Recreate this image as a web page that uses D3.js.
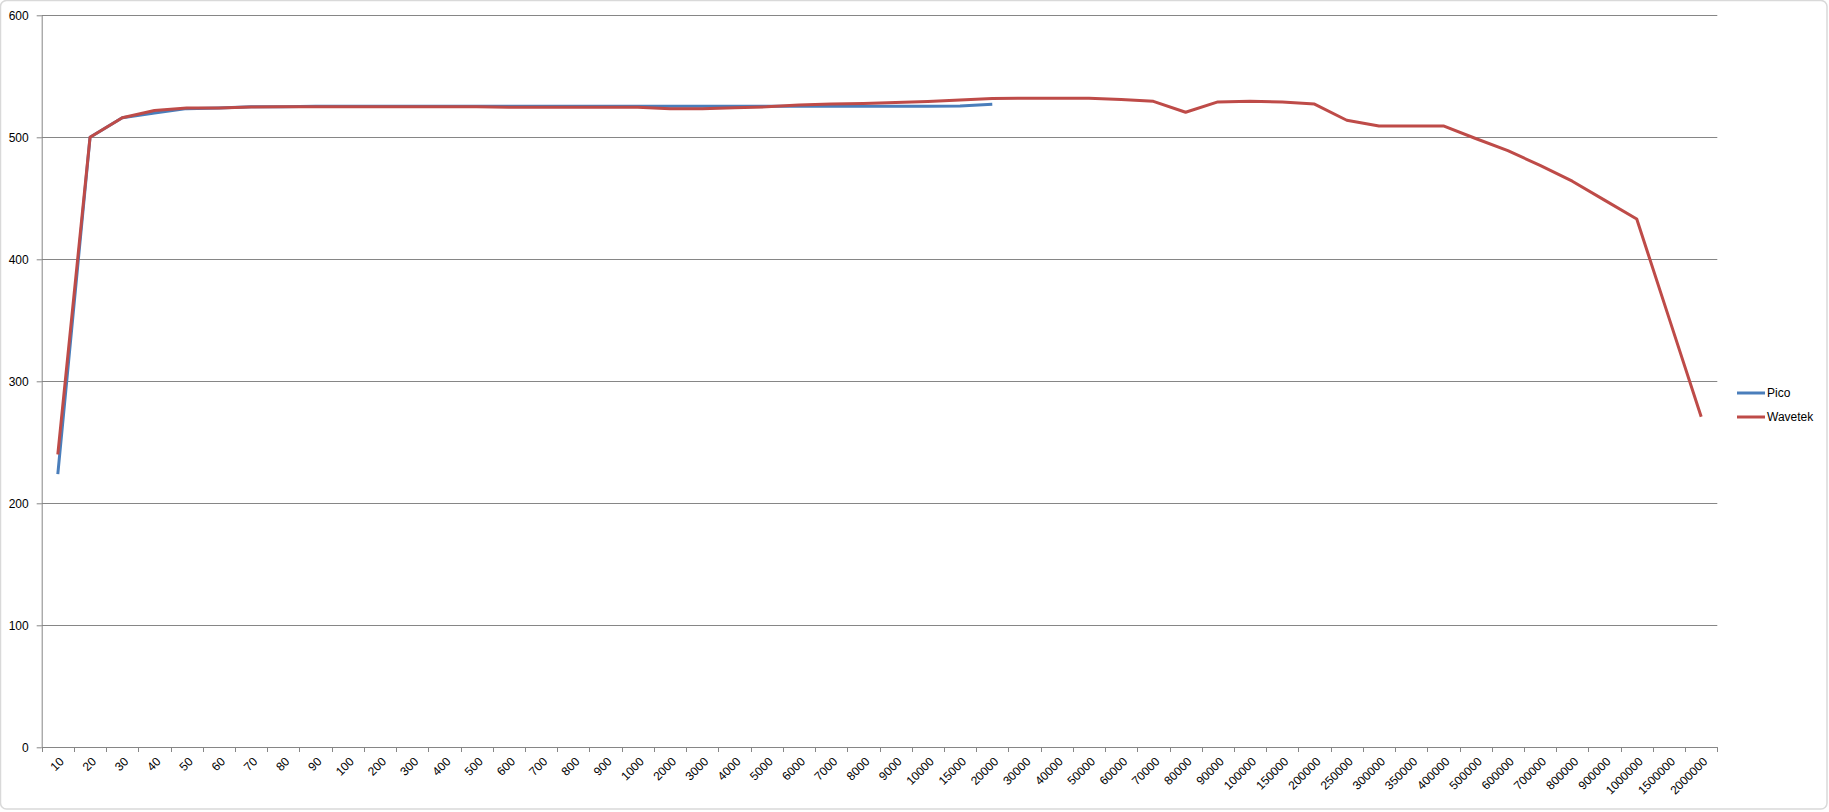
<!DOCTYPE html>
<html>
<head>
<meta charset="utf-8">
<script src="https://cdn.jsdelivr.net/npm/d3@7"></script>
<style>
  html, body { margin: 0; padding: 0; background: #ffffff; }
  svg { display: block; }
  text { font-family: "Liberation Sans", Arial, sans-serif; fill: #000; }
</style>
</head>
<body>
<svg id="chart" width="1829" height="812"></svg>
<script>
const categories = ["10","20","30","40","50","60","70","80","90",
  "100","200","300","400","500","600","700","800","900",
  "1000","2000","3000","4000","5000","6000","7000","8000","9000",
  "10000","15000","20000","30000","40000","50000","60000","70000","80000","90000",
  "100000","150000","200000","250000","300000","350000","400000","500000","600000",
  "700000","800000","900000","1000000","1500000","2000000"];

const pico = [224, 500, 516, 520, 523.5, 524, 525, 525, 525.5,
  525.5, 525.5, 525.5, 525.5, 525.5, 525.5, 525.5, 525.5, 525.5,
  525.5, 525.5, 525.5, 525.5, 525.5, 525.5, 525.5, 525.5, 525.5,
  525.5, 525.6, 527];

const wavetek = [240, 500, 516, 522, 524, 524, 524.8, 525, 525,
  525, 525, 525, 525, 525, 524.6, 524.6, 524.6, 524.6,
  524.6, 523.5, 523.5, 524.2, 525, 526.4, 527.2, 527.8, 528.6,
  529.4, 530.6, 531.8, 532, 532, 532, 531, 529.5, 520.5, 529,
  529.6, 529, 527.2, 514, 509.3, 509.3, 509.3, 499, 489,
  477, 464, 448.5, 433, 352, 271];

const yTicks = [0, 100, 200, 300, 400, 500, 600];

const seriesNames = ["Pico", "Wavetek"];
const seriesColors = ["#4A7EBB", "#BE4B48"];

const svg = d3.select("#chart");

// outer chart frame
svg.append("rect")
  .attr("x", 0.5).attr("y", 0.5)
  .attr("width", 1826.5).attr("height", 808.5)
  .attr("rx", 6).attr("ry", 6)
  .attr("fill", "#fff")
  .attr("stroke", "#d9d9d9").attr("stroke-width", 1.5);

const x = d3.scaleBand().domain(categories).range([41.7, 1717.3]).padding(0);
const y = d3.scaleLinear().domain([0, 600]).range([747.3, 15.3]);

const gridColor = "#868686";

// horizontal gridlines
svg.append("g").selectAll("line").data(yTicks.filter(d => d > 0)).join("line")
  .attr("x1", 41.7).attr("x2", 1717.3)
  .attr("y1", d => Math.round(y(d)) + 0.5).attr("y2", d => Math.round(y(d)) + 0.5)
  .attr("stroke", gridColor).attr("stroke-width", 1);

// y axis
const yAxis = d3.axisLeft(y).tickValues(yTicks).tickSize(5).tickPadding(8);
const gy = svg.append("g").attr("transform", "translate(41.7,0)").call(yAxis);
gy.select(".domain").attr("stroke", gridColor).attr("d", `M0.5,${y(600)}V${y(0)}`);
gy.selectAll(".tick line").attr("stroke", gridColor);
gy.selectAll(".tick text").attr("font-size", 12).attr("fill", "#000")
  .attr("font-family", "Liberation Sans, Arial, sans-serif");

// x axis line
svg.append("line")
  .attr("x1", 41.7).attr("x2", 1717.8)
  .attr("y1", Math.round(y(0)) + 0.5).attr("y2", Math.round(y(0)) + 0.5)
  .attr("stroke", gridColor).attr("stroke-width", 1);

// x ticks between categories
const tickXs = categories.map(c => x(c)).concat([x.range()[1]]);
svg.append("g").selectAll("line").data(tickXs).join("line")
  .attr("x1", d => Math.round(d) + 0.5).attr("x2", d => Math.round(d) + 0.5)
  .attr("y1", Math.round(y(0)) + 0.5).attr("y2", Math.round(y(0)) + 5)
  .attr("stroke", gridColor).attr("stroke-width", 1);

// x labels rotated
svg.append("g").selectAll("text").data(categories).join("text")
  .attr("transform", d => `translate(${x(d) + x.bandwidth() / 2 + 4},${y(0) + 12}) rotate(-45)`)
  .attr("text-anchor", "end")
  .attr("dy", "0.35em")
  .attr("font-size", 12)
  .text(d => d);

// lines
const line = d3.line()
  .x((d, i) => x(categories[i]) + x.bandwidth() / 2)
  .y(d => y(d));

svg.append("path").datum(pico)
  .attr("d", line).attr("fill", "none")
  .attr("stroke", seriesColors[0]).attr("stroke-width", 3)
  .attr("stroke-linejoin", "round");

svg.append("path").datum(wavetek)
  .attr("d", line).attr("fill", "none")
  .attr("stroke", seriesColors[1]).attr("stroke-width", 3)
  .attr("stroke-linejoin", "round");

// legend
const legend = svg.append("g");
seriesNames.forEach((name, i) => {
  const ly = 393 + i * 24;
  legend.append("line")
    .attr("x1", 1737).attr("x2", 1765)
    .attr("y1", ly).attr("y2", ly)
    .attr("stroke", seriesColors[i]).attr("stroke-width", 3);
  legend.append("text")
    .attr("x", 1767).attr("y", ly).attr("dy", "0.35em")
    .attr("font-size", 12)
    .text(name);
});
</script>
</body>
</html>
